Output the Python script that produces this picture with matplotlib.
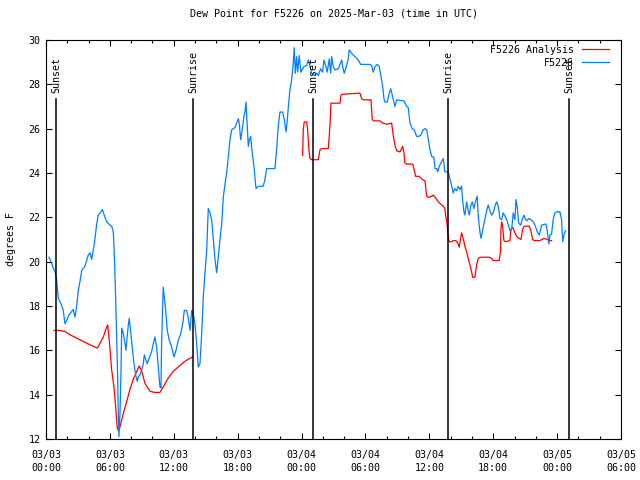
import datetime as dt
import numpy as np
import matplotlib
matplotlib.use("Agg")
import matplotlib.pyplot as plt
import matplotlib.dates as mdates
from matplotlib.ticker import MultipleLocator

start = dt.datetime(2025, 3, 3)

# observed dew point (hours since 03/03 00:00 UTC, deg F)
obs_hours = [0.28, 0.47, 0.69, 0.85, 1.00, 1.15, 1.41, 1.62, 1.78, 1.94, 2.16, 2.41, 2.56, 2.72, 2.88,
             3.03, 3.19, 3.35, 3.66, 3.97, 4.13, 4.29, 4.54, 4.76, 4.91, 5.16, 5.29, 5.54, 5.70, 6.01,
             6.17, 6.32, 6.41, 6.54, 6.64, 6.73, 6.79, 6.85, 6.95, 7.04, 7.11, 7.26, 7.42, 7.51, 7.58,
             7.73, 7.82, 7.95, 8.14, 8.26, 8.42, 8.57, 8.67, 8.83, 8.99, 9.14, 9.23, 9.39, 9.51, 9.70,
             9.92, 10.08, 10.23, 10.39, 10.54, 10.70, 10.80, 10.86, 10.96, 11.01, 11.11, 11.24, 11.39,
             11.58, 11.80, 12.02, 12.21, 12.42, 12.65, 12.84, 12.99, 13.21, 13.36, 13.52, 13.68, 13.83,
             13.99, 14.15, 14.30, 14.46, 14.62, 14.77, 14.93, 15.09, 15.24, 15.40, 15.56, 15.71, 15.87,
             16.03, 16.18, 16.34, 16.50, 16.65, 16.81, 16.97, 17.12, 17.28, 17.44, 17.59, 17.75, 17.91,
             18.06, 18.15, 18.28, 18.43, 18.59, 18.69, 18.78, 18.85, 19.00, 19.09, 19.22, 19.37, 19.53,
             19.72, 19.93, 20.40, 20.56, 20.72, 21.50, 21.66, 21.81, 21.97, 22.23, 22.38, 22.54, 22.66,
             22.79, 22.91, 23.07, 23.22, 23.31, 23.41, 23.54, 23.63, 23.78, 23.94, 24.10, 24.23, 24.48,
             24.63, 24.79, 24.95, 25.26, 25.42, 25.57, 25.79, 25.98, 26.10, 26.29, 26.41, 26.60, 26.73,
             26.83, 26.98, 27.14, 27.45, 27.61, 27.77, 27.86, 28.01, 28.23, 28.38, 28.48, 28.70, 29.01,
             29.32, 29.55, 30.42, 30.58, 30.73, 30.89, 31.11, 31.30, 31.46, 31.62, 31.74, 31.83, 32.05,
             32.18, 32.37, 32.55, 32.77, 32.93, 33.62, 33.87, 34.02, 34.18, 34.39, 34.58, 34.81, 34.96,
             35.18, 35.43, 35.59, 35.75, 35.90, 36.06, 36.22, 36.43, 36.53, 36.69, 36.78, 36.93, 37.15,
             37.31, 37.46, 37.77, 37.93, 38.09, 38.24, 38.40, 38.56, 38.71, 38.87, 39.03, 39.12, 39.25,
             39.34, 39.50, 39.65, 39.75, 39.88, 40.03, 40.19, 40.38, 40.50, 40.59, 40.75, 40.85, 41.00,
             41.22, 41.38, 41.53, 41.69, 41.85, 42.00, 42.16, 42.32, 42.47, 42.63, 42.79, 42.94, 43.10,
             43.26, 43.41, 43.57, 43.73, 43.88, 44.04, 44.13, 44.25, 44.38, 44.57, 44.76, 44.88, 45.04,
             45.19, 45.35, 45.51, 45.76, 45.92, 46.13, 46.32, 46.55, 46.95, 47.07, 47.23, 47.32, 47.48,
             47.63, 47.79, 47.95, 48.26, 48.42, 48.52, 48.64, 48.80]
obs_vals = [20.2, 20.0, 19.7, 19.55, 19.2, 18.35, 18.1, 17.8, 17.2, 17.35, 17.6, 17.75, 17.85, 17.5, 18.0,
            18.7, 19.1, 19.6, 19.8, 20.3, 20.4, 20.1, 20.8, 21.7, 22.1, 22.25, 22.35, 22.0, 21.8, 21.65,
            21.6, 21.35, 20.4, 18.4, 16.6, 14.8, 13.15, 12.1, 13.2, 15.0, 17.0, 16.75, 16.3, 16.0, 16.4,
            17.15, 17.45, 16.85, 15.95, 15.4, 14.9, 14.6, 14.8, 14.9, 15.1, 15.4, 15.8, 15.55, 15.4, 15.65,
            15.95, 16.3, 16.6, 16.15, 15.25, 14.35, 14.3, 16.45, 18.1, 18.85, 18.4, 17.8, 16.9,
            16.45, 16.15, 15.7, 16.0, 16.45, 16.75, 17.2, 17.8, 17.8, 17.45, 16.9, 17.8, 17.65,
            17.2, 16.3, 15.25, 15.4, 16.75, 18.4, 19.5, 20.5, 22.4, 22.2, 21.9, 21.0, 20.1,
            19.5, 20.2, 21.0, 21.7, 22.9, 23.5, 24.0, 24.75, 25.5, 25.95, 26.0, 26.05, 26.25,
            26.45, 26.25, 25.5, 25.95, 26.55, 26.75, 27.2, 26.55, 25.2, 25.5, 25.65, 24.9, 24.3,
            23.3, 23.4, 23.4, 23.7, 24.2, 24.2, 25.05, 26.1, 26.75, 26.75, 26.4, 25.85, 26.4,
            27.15, 27.75, 28.2, 28.95, 29.65, 28.5, 29.25, 28.55, 29.3, 28.55, 28.7, 28.8, 28.85,
            29.1, 28.8, 28.5, 28.4, 28.5, 28.4, 28.7, 28.55, 29.1, 28.8, 28.55, 29.15, 28.5,
            29.25, 28.8, 28.65, 28.7, 28.9, 29.1, 28.8, 28.5, 28.85, 29.15, 29.55, 29.4, 29.25,
            29.1, 28.9, 28.9, 28.85, 28.55, 28.8, 28.9, 28.8, 28.35, 27.9, 27.35, 27.2, 27.2,
            27.5, 27.8, 27.45, 27.0, 27.3, 27.25, 27.0, 26.95, 26.25, 26.0, 25.95, 25.65, 25.65,
            25.7, 25.95, 26.0, 25.95, 25.5, 25.05, 24.75, 24.7, 24.2, 24.2, 24.05, 24.3, 24.5,
            24.65, 24.05, 24.05, 23.75, 23.45, 23.1, 23.3, 23.2, 23.4, 23.25, 23.4, 22.8, 22.25,
            22.1, 22.7, 22.3, 22.1, 22.5, 22.7, 22.4, 22.8, 22.95, 22.05, 21.35, 21.05, 21.4,
            21.9, 22.3, 22.55, 22.3, 22.1, 22.2, 22.5, 22.7, 22.5, 21.95, 21.9, 22.2, 22.05,
            21.9, 21.65, 21.4, 21.45, 22.2, 21.9, 22.8, 22.5, 21.75, 21.65, 21.95, 22.1, 21.9,
            21.85, 21.95, 21.9, 21.8, 21.65, 21.35, 21.2, 21.65, 21.7, 21.4, 20.8, 21.2, 21.25,
            21.9, 22.2, 22.25, 22.25, 21.9, 20.9, 21.2, 21.4]

# analysis dew point, two pieces with a gap in between
ana_hours = [0.75, 1.31, 1.78, 2.25, 2.88, 3.50, 4.13, 4.82, 5.38, 5.70, 5.79, 5.94, 6.17, 6.38, 6.57,
             6.69, 6.83, 6.95, 7.26, 7.58, 7.89, 8.20, 8.52, 8.76, 8.99, 9.30, 9.77, 10.23, 10.70,
             11.01, 11.48, 11.95, 12.42, 12.89, 13.36, 13.77,
             24.10, 24.16, 24.25, 24.48, 24.57, 24.69, 24.79, 24.95, 25.57, 25.73, 25.89, 26.51, 26.67,
             26.76, 27.61, 27.70, 27.77, 29.32, 29.48, 29.64, 29.79, 30.52, 30.64, 30.80, 31.36, 31.62,
             32.05, 32.46, 32.61, 32.77, 32.93, 33.24, 33.40, 33.49, 33.62, 33.71, 33.87, 34.43, 34.55,
             34.71, 35.02, 35.37, 35.59, 35.75, 35.90, 36.22, 36.37, 36.62, 36.84, 37.06, 37.31, 37.46,
             37.56, 37.68, 37.77, 37.87, 38.09, 38.24, 38.50, 38.71, 38.81, 38.94, 39.03, 39.18, 39.34,
             39.50, 39.65, 39.81, 39.97, 40.06, 40.28, 40.44, 40.59, 40.75, 41.62, 41.85, 42.00, 42.56,
             42.69, 42.72, 42.79, 42.88, 43.00, 43.16, 43.57, 43.66, 43.82, 43.88, 44.04, 44.20, 44.41,
             44.60, 44.76, 44.91, 45.38, 45.51, 45.70, 45.85, 46.38, 46.76, 47.07, 47.32, 47.48]
ana_vals = [16.9, 16.9, 16.85, 16.7, 16.55, 16.4, 16.25, 16.1, 16.6, 17.05, 17.15, 16.45, 15.1, 14.35, 13.3,
            12.5, 12.35, 12.55, 13.15, 13.7, 14.25, 14.7, 15.05, 15.3, 15.05, 14.5, 14.15, 14.1, 14.1,
            14.35, 14.75, 15.05, 15.25, 15.45, 15.6, 15.7,
            24.8, 25.95, 26.3, 26.3, 25.95, 25.05, 24.65, 24.6, 24.6, 25.05, 25.1, 25.1, 26.15,
            27.15, 27.15, 27.5, 27.55, 27.6, 27.6, 27.35, 27.3, 27.3, 26.4, 26.35, 26.35, 26.25,
            26.2, 26.25, 25.7, 25.25, 25.0, 24.95, 25.1, 25.2, 24.9, 24.45, 24.4, 24.4, 24.2,
            23.85, 23.85, 23.7, 23.65, 22.95, 22.9, 22.95, 23.0, 22.85, 22.7, 22.6, 22.5, 22.4,
            22.0, 21.65, 21.1, 20.9, 20.9, 20.95, 20.95, 20.8, 20.65, 21.05, 21.3, 21.05, 20.7,
            20.45, 20.15, 19.85, 19.55, 19.3, 19.3, 19.85, 20.15, 20.2, 20.2, 20.15, 20.05, 20.05,
            20.5, 21.45, 21.8, 21.65, 20.95, 20.9, 20.95, 21.45, 21.55, 21.5, 21.3, 21.15, 21.05,
            21.0, 21.45, 21.6, 21.6, 21.45, 21.0, 20.95, 20.95, 21.05, 21.0, 20.95, 20.95]
ana_break = 36  # first index of the second piece

sun_hours = [0.94, 13.80, 25.07, 37.75, 49.11]
sun_names = ["Sunset", "Sunrise", "Sunset", "Sunrise", "Sunset"]


def to_time(hours):
    return [start + dt.timedelta(hours=h) for h in hours]


plt.rcParams["font.family"] = ["DejaVu Sans Mono"]
plt.rcParams["font.size"] = 7.2

fig = plt.figure(figsize=(6.4, 4.8), dpi=100)
ax = fig.add_axes([46 / 640, 1 - 439 / 480, 575 / 640, 399 / 480])

ax.plot(to_time(ana_hours[:ana_break]), ana_vals[:ana_break], color="#ff0000", lw=0.9,
        label="F5226 Analysis")
ax.plot(to_time(ana_hours[ana_break:]), ana_vals[ana_break:], color="#ff0000", lw=0.9)
ax.plot(to_time(obs_hours), obs_vals, color="#0080ff", lw=0.9, label="F5226")

for h, name in zip(sun_hours, sun_names):
    t = start + dt.timedelta(hours=h)
    ax.axvline(t, ymin=0, ymax=0.852, color="black", lw=1.1)
    ax.text(t, 0.868, name, rotation=90, ha="center", va="bottom",
            transform=ax.get_xaxis_transform())

ax.set_xlim(start, start + dt.timedelta(hours=54))
ax.set_ylim(12, 30)
ax.xaxis.set_major_locator(mdates.HourLocator(byhour=[0, 6, 12, 18]))
ax.xaxis.set_minor_locator(mdates.HourLocator(byhour=range(0, 24, 2)))
ax.xaxis.set_major_formatter(mdates.DateFormatter("%m/%d\n%H:%M"))
ax.yaxis.set_major_locator(MultipleLocator(2))
ax.tick_params(which="both", direction="in", top=True, right=True, width=0.8)
ax.tick_params(which="major", length=4)
ax.tick_params(which="minor", length=2.5)
ax.tick_params(axis="x", pad=8)
ax.tick_params(axis="y", pad=4)
for lab in ax.get_xticklabels():
    lab.set_linespacing(1.35)

ax.set_title("Dew Point for F5226 on 2025-Mar-03 (time in UTC)", fontsize=7.2, pad=17)
ax.set_ylabel("degrees F", labelpad=9)

ax.legend(loc="upper right", bbox_to_anchor=(0.988, 1.0), frameon=False, markerfirst=False,
          handlelength=2.7, borderaxespad=0.1, labelspacing=0.3, handletextpad=0.8)

fig.savefig("out.png", dpi=100)
